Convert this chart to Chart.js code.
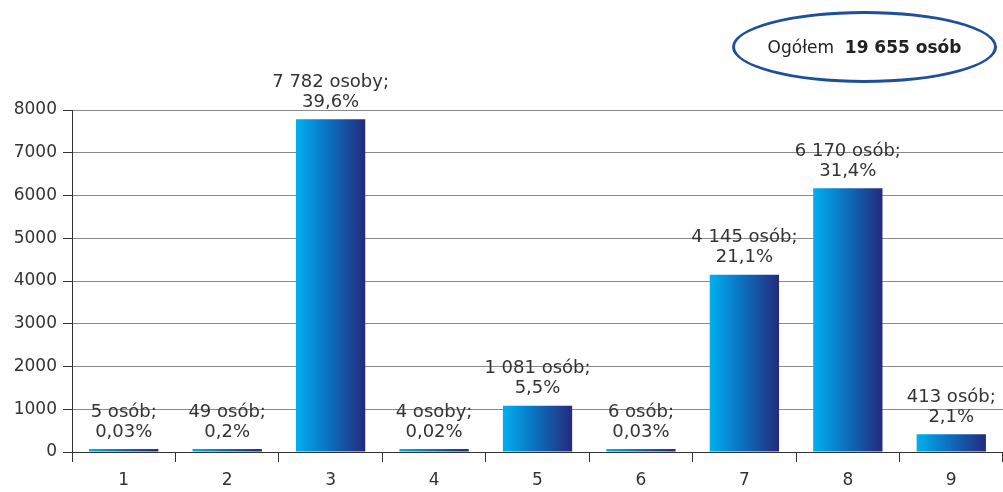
<!DOCTYPE html>
<html lang="pl">
<head>
<meta charset="utf-8">
<title>Ogółem 19 655 osób</title>
<script src="https://cdn.jsdelivr.net/npm/chart.js@4/dist/chart.umd.min.js"></script>
<style>
    html, body { margin: 0; padding: 0; background: #fff; }
    #wrap { position: relative; width: 1003px; height: 492px; }
    #total {
        position: absolute; left: 732px; top: 11px; width: 259px; height: 66px;
        border: 3px solid #1f4e9c; border-radius: 50%;
        display: flex; align-items: center; justify-content: center;
        font: 17px "DejaVu Sans", sans-serif; color: #222; white-space: pre;
    }
    #total b { font-weight: bold; }
</style>
</head>
<body>
<div id="wrap">
    <canvas id="chart"></canvas>
    <div id="total">Ogółem  <b>19 655 osób</b></div>
</div>
<script>
// --- dane ---
const categories = ['1', '2', '3', '4', '5', '6', '7', '8', '9'];
const counts = [5, 49, 7782, 4, 1081, 6, 4145, 6170, 413];
const countLabels = ['5 osób;', '49 osób;', '7 782 osoby;', '4 osoby;', '1 081 osób;',
    '6 osób;', '4 145 osób;', '6 170 osób;', '413 osób;'];
const shares = ['0,03%', '0,2%', '39,6%', '0,02%', '5,5%', '0,03%', '21,1%', '31,4%', '2,1%'];
const yMin = 0, yMax = 8000, yStep = 1000;

const FONT = '"DejaVu Sans", sans-serif';
const TEXT = '#333333';
const barPct = 0.67;

// gradient poziomy dla każdego słupka
const barGradient = (c) => {
    const chart = c.chart;
    const xs = chart.scales.x;
    if (!chart.chartArea || !xs || c.dataIndex === undefined) return '#0a7cc8';
    const cx = xs.getPixelForValue(c.dataIndex);
    const half = xs.width / categories.length * barPct / 2;
    const g = chart.ctx.createLinearGradient(cx - half, 0, cx + half, 0);
    g.addColorStop(0, '#00b0ef');
    g.addColorStop(0.45, '#0b72c2');
    g.addColorStop(1, '#262a7c');
    return g;
};

// etykiety nad słupkami (dwie linie)
const barLabels = {
    id: 'barLabels',
    afterDatasetsDraw(chart) {
        const ctx = chart.ctx;
        const meta = chart.getDatasetMeta(0);
        ctx.save();
        ctx.font = '18px ' + FONT;
        ctx.fillStyle = TEXT;
        ctx.textAlign = 'center';
        ctx.textBaseline = 'middle';
        meta.data.forEach((bar, i) => {
            ctx.fillText(countLabels[i], bar.x, bar.y - 37);
            ctx.fillText(shares[i], bar.x, bar.y - 17);
        });
        ctx.restore();
    }
};

new Chart(document.getElementById('chart'), {
    type: 'bar',
    data: {
        labels: categories,
        datasets: [{
            data: counts,
            backgroundColor: barGradient,
            borderWidth: 0,
            minBarLength: 3,
            barPercentage: barPct,
            categoryPercentage: 1
        }]
    },
    options: {
        responsive: true,
        maintainAspectRatio: false,
        animation: false,
        layout: { padding: { top: 110, right: 0, left: 0, bottom: 0 } },
        plugins: {
            legend: { display: false },
            tooltip: { enabled: false }
        },
        scales: {
            x: {
                grid: {
                    drawOnChartArea: false,
                    tickLength: 10,
                    tickColor: '#333',
                    offset: true
                },
                border: { color: '#333', width: 1 },
                ticks: { color: TEXT, font: { family: FONT, size: 17 }, padding: 8 },
                afterFit: (s) => { s.height = 40; }
            },
            y: {
                min: yMin,
                max: yMax,
                ticks: {
                    stepSize: yStep,
                    color: TEXT,
                    font: { family: FONT, size: 17 },
                    padding: 6,
                    callback: (v) => String(v)
                },
                grid: { color: '#8a8a8a', tickColor: '#333', tickLength: 9 },
                border: { color: '#333', width: 1 },
                afterFit: (s) => { s.width = 72; }
            }
        }
    },
    plugins: [barLabels]
});
</script>
</body>
</html>
